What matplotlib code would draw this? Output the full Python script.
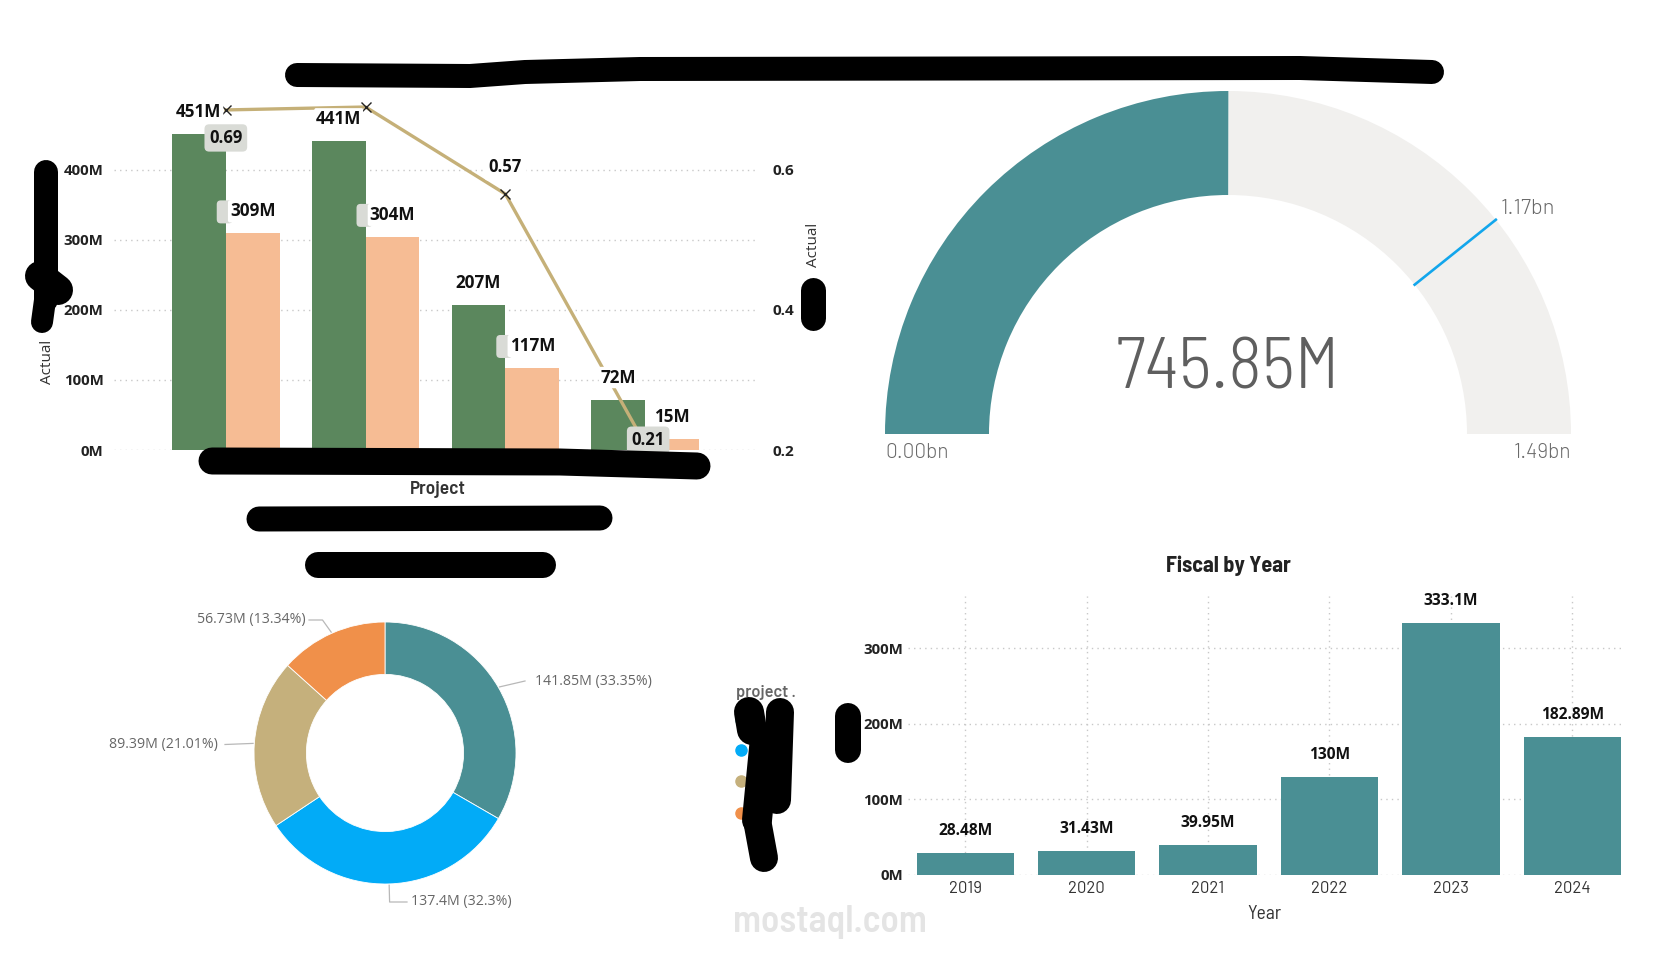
import matplotlib
matplotlib.use("Agg")
import matplotlib.pyplot as plt
import numpy as np
from matplotlib.patches import FancyBboxPatch
from matplotlib.transforms import IdentityTransform

# ---------------- data ----------------
projects = ["", "", "", ""]                 # project names are hidden in the reference
budget_m = [451, 441, 207, 72]              # green bars (M)
actual_m = [309, 304, 117, 15]              # peach bars (M)
ratio = [0.6851, 0.6893, 0.5652, 0.2083]    # line (Actual / Budget)
ratio_shown = [True, False, True, True]

donut_values = [141.85, 137.4, 89.39, 56.73]
donut_pct = [33.35, 32.3, 21.01, 13.34]

gauge_value = 745.85e6
gauge_max = 1.49e9
gauge_target = 1.17e9

years = ["2019", "2020", "2021", "2022", "2023", "2024"]
fiscal_m = [28.48, 31.43, 39.95, 130, 333.1, 182.89]

left_ticks = [0, 100, 200, 300, 400]
right_ticks = [0.2, 0.4, 0.6]
fiscal_ticks = [0, 100, 200, 300]

# ---------------- style ----------------
GREEN = "#5B875D"
PEACH = "#F6BC94"
LINE = "#C5B078"
TEAL = "#4A8F94"
BLUE = "#02ABF7"
TAN = "#C5B07C"
ORANGE = "#F0904A"
GAUGE_BG = "#F1F0EE"
GRID = "#C8C8C8"

WIDE = ["Barlow", "DejaVu Sans"]
COND = ["Barlow Semi Condensed", "DejaVu Sans"]
UI = ["Open Sans", "DejaVu Sans"]
plt.rcParams["font.family"] = UI

W, H = 1660, 960
fig = plt.figure(figsize=(W / 100, H / 100), dpi=100)
fig.patch.set_facecolor("white")
PX = 72 / 100  # points per pixel


def add_ax(x0, y0, x1, y1, **kw):
    return fig.add_axes([x0 / W, 1 - y1 / H, (x1 - x0) / W, (y1 - y0) / H], **kw)


def clean(ax):
    for s in ax.spines.values():
        s.set_visible(False)


# ---------------- combo chart (top left) ----------------
ax1 = add_ax(114, 99.5, 757, 450)
clean(ax1)
x = np.arange(len(budget_m))
bw = 0.385
ax1.bar(x - bw / 2, budget_m, bw, color=GREEN, zorder=2)
ax1.bar(x + bw / 2, actual_m, bw, color=PEACH, zorder=2)
ax1.set_xlim(-0.8, 3.8)
ax1.set_ylim(0, 500)
ax1.set_yticks(left_ticks)
ax1.set_yticklabels([f"{v}M" for v in left_ticks], fontsize=10.8, fontweight="bold", color="#222")
ax1.tick_params(axis="y", length=0, pad=7.5)
ax1.set_xticks(x)
ax1.set_xticklabels(projects)
ax1.tick_params(axis="x", length=0)
ax1.grid(axis="y", linestyle=(0, (1, 3)), color=GRID, linewidth=1)
ax1.set_axisbelow(True)

ax2 = ax1.twinx()
clean(ax2)
ax2.set_ylim(0.2, 0.7)
ax2.set_yticks(right_ticks)
ax2.set_yticklabels([f"{v:g}" for v in right_ticks], fontsize=11, fontweight="bold", color="#222")
ax2.tick_params(axis="y", length=0, pad=11.5)
ax2.plot(x, ratio, color=LINE, lw=2.4, marker="x", mec="#222", mew=1.0, ms=7, zorder=3)

for xi, v in zip(x, budget_m):
    ax2.annotate(f"{v}M", xy=(xi - bw / 2, v), xycoords=ax1.transData,
                 xytext=(0, 22), textcoords="offset pixels", ha="center", va="center",
                 fontsize=12.3, fontweight="bold", color="#111", zorder=5,
                 bbox=dict(boxstyle="round,pad=0.1", fc="white", ec="none"))
peach_box = [True, True, True, False]
for xi, v, pb in zip(x, actual_m, peach_box):
    if pb:
        px, py = ax1.transData.transform((xi + bw / 2, v))
        ax2.add_patch(FancyBboxPatch((px - 36, py + 10), 16, 23,
                                     boxstyle="round,pad=0,rounding_size=4",
                                     fc="#D9DBD6", ec="none", transform=IdentityTransform(),
                                     clip_on=False, zorder=4))
    ax2.annotate(f"{v}M", xy=(xi + bw / 2, v), xycoords=ax1.transData,
                 xytext=(0, 22), textcoords="offset pixels", ha="center", va="center",
                 fontsize=12.3, fontweight="bold", color="#111", zorder=5,
                 bbox=dict(boxstyle="round,pad=0.12", fc="white", ec="none"))

ratio_offsets = [(0, -28), (0, 0), (0, 27), (3, 4)]
ratio_boxes = ["#D9DBD6", "white", "white", "#D9DBD6"]
for xi, v, show, off, bc in zip(x, ratio, ratio_shown, ratio_offsets, ratio_boxes):
    if show:
        ax2.annotate(f"{v:.2f}", xy=(xi, v), xytext=off, textcoords="offset pixels",
                     ha="center", va="center", fontsize=12, fontweight="bold", color="#111",
                     zorder=6, bbox=dict(boxstyle="round,pad=0.28", fc=bc, ec="none"))

fig.text(438 / W, 1 - 490 / H, "Project", ha="center", va="center", fontsize=14,
         fontweight=600, color="#333", family=COND)
fig.text(47.6 / W, 1 - 362 / H, "Actual", rotation=90, ha="center", va="center",
         fontsize=11, color="#333", family=UI)
fig.text(813 / W, 1 - 245 / H, "Actual", rotation=90, ha="center", va="center",
         fontsize=11, color="#333", family=UI)

# ---------------- gauge (top right) ----------------
gcx, gcy, R = 1228, 434, 343.0
ax5 = add_ax(gcx - 360, gcy - 360, gcx + 360, gcy + 36)
ax5.axis("off")
ax5.pie([gauge_value, gauge_max - gauge_value, gauge_max], startangle=180, counterclock=False,
        colors=[TEAL, GAUGE_BG, "none"], radius=1,
        wedgeprops=dict(width=104 / R, linewidth=0))
ax5.set_aspect("auto")
ax5.set_xlim(-360 / R, 360 / R)
ax5.set_ylim(-36 / R, 360 / R)
ang = np.deg2rad(180 - 180 * gauge_target / gauge_max)
rin = 1 - 104 / R
ax5.plot([rin * np.cos(ang), np.cos(ang)], [rin * np.sin(ang), np.sin(ang)], color="#12A6EC", lw=1.9)
ax5.text(0, 64 / R, f"{gauge_value / 1e6:.2f}M", ha="center", va="center", fontsize=52,
         color="#5F5F5F", family=COND, fontweight=300)
ax5.text(-1.0, -19 / R, f"{0:.2f}bn", ha="left", va="center", fontsize=15, color="#6A6A6A",
         family=WIDE, fontweight=300)
ax5.text(1.0, -19 / R, f"{gauge_max / 1e9:.2f}bn", ha="right", va="center", fontsize=15,
         color="#6A6A6A", family=WIDE, fontweight=300)
ax5.text(273 / R, 225 / R, f"{gauge_target / 1e9:.2f}bn", ha="left", va="center", fontsize=15.5,
         color="#6A6A6A", family=WIDE, fontweight=300)

# ---------------- donut (bottom left) ----------------
dcx, dcy, DR = 385, 753, 131.0
ax4 = add_ax(dcx - 150, dcy - 150, dcx + 150, dcy + 150)
wedges, _ = ax4.pie(donut_values, colors=[TEAL, BLUE, TAN, ORANGE], startangle=90,
                    counterclock=False, radius=1,
                    wedgeprops=dict(width=0.4, edgecolor="white", linewidth=0.6))
ax4.set_aspect("auto")
ax4.set_xlim(-150 / DR, 150 / DR)
ax4.set_ylim(-150 / DR, 150 / DR)

# label layout (pixel offsets from donut centre, y up): leader bends, text anchor
leaders = [
    [(140, 72)],
    [(4.6, -149), (22, -149)],
    [(-160, 8.5)],
    [(-62.5, 133), (-76, 133)],
]
text_pos = [((150, 72), "left"), ((26, -149), "left"), ((-167, 8.5), "right"), ((-79, 133), "right")]
for w, v, p, pts, (tp, ha) in zip(wedges, donut_values, donut_pct, leaders, text_pos):
    th = np.deg2rad((w.theta1 + w.theta2) / 2)
    xs = [np.cos(th) * 1.01] + [q[0] / DR for q in pts]
    ys = [np.sin(th) * 1.01] + [q[1] / DR for q in pts]
    ax4.plot(xs, ys, color="#B8B8B8", lw=0.9, clip_on=False)
    ax4.text(tp[0] / DR, tp[1] / DR, f"{v:g}M ({p:g}%)", ha=ha, va="center", fontsize=10.2,
             color="#666666", family=UI, clip_on=False)

# ---------------- fiscal by year (bottom right) ----------------
ax3 = add_ax(908, 596, 1621, 875)
clean(ax3)
xy = np.arange(len(years))
ax3.bar(xy, fiscal_m, 0.8, color=TEAL, zorder=2)
ax3.set_xlim(-0.47, 5.4)
ax3.set_ylim(0, 369)
ax3.set_yticks(fiscal_ticks)
ax3.set_yticklabels([f"{v}M" for v in fiscal_ticks], fontsize=10.8, fontweight="bold", color="#222")
ax3.tick_params(axis="y", length=0, pad=3.5)
ax3.set_xticks(xy)
ax3.set_xticklabels(years, fontsize=12, color="#333", family=WIDE)
ax3.tick_params(axis="x", length=0, pad=4)
ax3.grid(True, linestyle=(0, (1, 3)), color=GRID, linewidth=1)
ax3.set_axisbelow(True)
ax3.set_xlabel("Year", fontsize=14, color="#333", labelpad=7, family=COND)
for xi, v in zip(xy, fiscal_m):
    ax3.annotate(f"{v:g}M", xy=(xi, v), xytext=(0, 22), textcoords="offset pixels",
                 ha="center", va="center", fontsize=11.2, fontweight="bold", color="#111")
fig.text(1228 / W, 1 - 566 / H, "Fiscal by Year", ha="center", va="center", fontsize=16,
         fontweight="bold", color="#222", family=COND)

# ---------------- overlay: legend, watermark, redaction strokes ----------------
ov = fig.add_axes([0, 0, 1, 1], zorder=20)
ov.set_xlim(0, W)
ov.set_ylim(H, 0)
ov.axis("off")
ov.patch.set_alpha(0)

ov.text(736, 693, "project .", ha="left", va="center", fontsize=11.8, fontweight=600, color="#666",
        family=WIDE)
for yy, c in zip([720, 750, 781, 813], [TEAL, BLUE, TAN, ORANGE]):
    ov.plot([741], [yy], "o", color=c, ms=8, zorder=1)

ov.text(830, 922, "mostaql.com", ha="center", va="center", fontsize=27, fontweight=600,
        color="#E4E4E4", zorder=1, family=COND)

strokes = [
    ([297, 470, 525, 640, 1300, 1432], [75, 76, 72, 69, 68, 72], 24),
    ([46, 46], [172, 300], 24),
    ([40, 58], [276, 290], 30),
    ([45, 42], [300, 322], 22),
    ([813, 813], [290, 318], 25),
    ([212, 560, 697], [461, 462, 466], 27),
    ([259, 600], [519, 518], 25),
    ([318, 543], [565, 565], 26),
    ([749, 752], [712, 730], 30),
    ([780, 777], [712, 800], 28),
    ([765, 757], [738, 820], 30),
    ([757, 764], [820, 858], 28),
    ([848, 848], [716, 750], 26),
]
for xs, ys, lw in strokes:
    ov.plot(xs, ys, color="black", lw=lw * PX, solid_capstyle="round", solid_joinstyle="round", zorder=10)

fig.savefig("out.png", dpi=100, facecolor="white")
